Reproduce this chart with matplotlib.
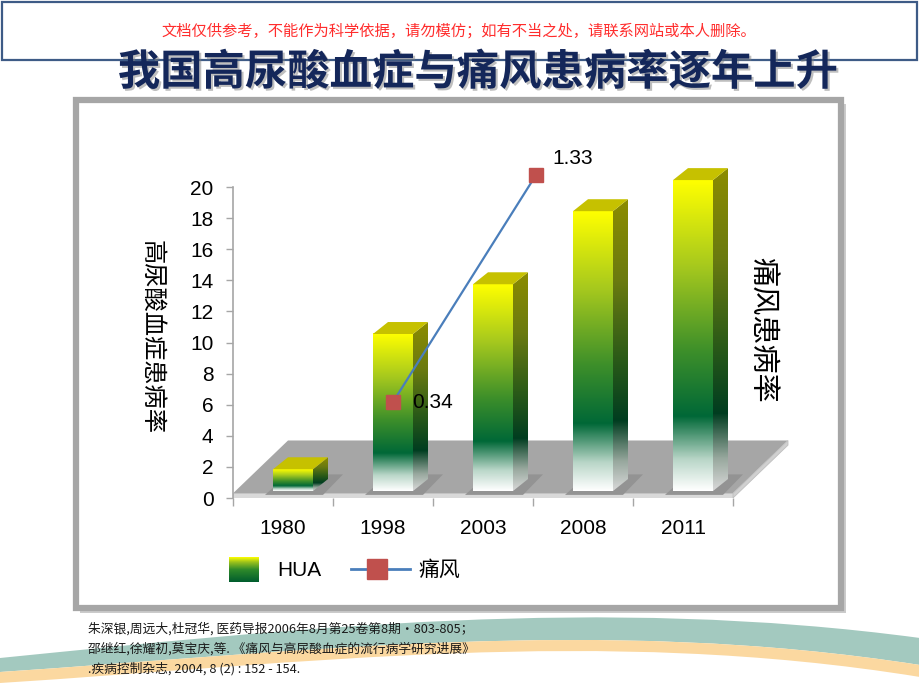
import numpy as np
import matplotlib
matplotlib.use('Agg')
import matplotlib.pyplot as plt
from matplotlib.colors import LinearSegmentedColormap
from matplotlib.patches import Polygon, Rectangle, PathPatch
from matplotlib.path import Path
import matplotlib.patheffects as pe

plt.rcParams['font.family'] = ['Liberation Sans', 'Noto Sans CJK SC']
CJK = ['Noto Sans CJK SC', 'DejaVu Sans']

# 数据
years = ['1980', '1998', '2003', '2008', '2011']
hua = [1.4, 10.1, 13.3, 18.0, 20.0]          # 高尿酸血症患病率
gout_years = ['1998', '2003']
gout = [0.34, 1.33]                          # 痛风患病率
yticks = list(range(0, 21, 2))

title = '我国高尿酸血症与痛风患病率逐年上升'
notice = '文档仅供参考，不能作为科学依据，请勿模仿；如有不当之处，请联系网站或本人删除。'
ylabel_left = '高尿酸血症患病率'
ylabel_right = '痛风患病率'
legend_labels = ['HUA', '痛风']
refs = ['朱深银,周远大,杜冠华, 医药导报2006年8月第25卷第8期·803-805；',
        '邵继红,徐耀初,莫宝庆,等. 《痛风与高尿酸血症的流行病学研究进展》',
        '.疾病控制杂志, 2004, 8 (2) : 152 - 154.']

W, H = 920, 690
fig = plt.figure(figsize=(W / 100, H / 100), dpi=100)


def frac(l, t, r, b):
    return [l / W, 1 - b / H, (r - l) / W, (b - t) / H]


# 背景层（像素坐标）
bg = fig.add_axes([0, 0, 1, 1], zorder=0)
bg.set_xlim(0, W)
bg.set_ylim(H, 0)
bg.axis('off')

# 底部波浪
def band(top, bot, color):
    verts = top + [bot[0]] + bot[1:] + [top[0]]
    codes = ([Path.MOVETO] + [Path.CURVE4] * 3 + [Path.LINETO] +
             [Path.CURVE4] * 3 + [Path.CLOSEPOLY])
    bg.add_patch(PathPatch(Path(verts, codes), facecolor=color, edgecolor='none'))

teal_top = [(0, 658), (300, 628), (600, 595), (920, 638)]
teal_bot = [(920, 665), (600, 615), (300, 652), (0, 672)]
orange_bot = [(920, 677), (600, 625), (300, 664), (0, 683)]
band(teal_top, teal_bot, '#a3c9bf')
band(teal_bot[::-1], orange_bot, '#fbd8a0')

# 顶部提示框
bg.add_patch(Rectangle((2, 2), 915, 58, facecolor='white', edgecolor='#3e5b86', lw=1.6))
bg.text(459, 31, notice, ha='center', va='center', fontsize=11, color='#ff2d2d', family=CJK)

# 图表面板
bg.add_patch(Rectangle((80, 104), 766, 509, facecolor='#8c8c8c', edgecolor='none', alpha=0.45))
bg.add_patch(Rectangle((76.5, 100), 765, 508, facecolor='white', edgecolor='#a6a6a6', lw=4.5))

bg.text(478, 73, title, ha='center', va='center', fontsize=30.5, fontweight='bold',
        color='#14275a', family=CJK,
        path_effects=[pe.withSimplePatchShadow(offset=(1.5, -1.5), shadow_rgbFace='#7f7f7f', alpha=0.5)])

# 主坐标轴（柱）
ax = fig.add_axes(frac(233, 156, 833, 498), zorder=1)
ax.patch.set_visible(False)
for s in ['top', 'right', 'bottom']:
    ax.spines[s].set_visible(False)
ax.spines['left'].set_bounds(0, 20)
ax.spines['left'].set_color('#a6a6a6')
ax.spines['left'].set_linewidth(1.2)

fdx, fdy, fth = 0.55, 3.4, 0.3
ax.add_patch(Polygon([(-0.5, fth), (4.5, fth), (4.5 + fdx, fth + fdy), (-0.5 + fdx, fth + fdy)],
                     facecolor='#a6a6a6', edgecolor='none', zorder=1))
ax.add_patch(Rectangle((-0.5, 0), 5, fth, facecolor='#d9d9d9', edgecolor='#bfbfbf', lw=0.6, zorder=1))
ax.add_patch(Polygon([(4.5, 0), (4.5 + fdx, fdy), (4.5 + fdx, fdy + fth), (4.5, fth)],
                     facecolor='#d0d0d0', edgecolor='#bfbfbf', lw=0.6, zorder=1))

front_cmap = LinearSegmentedColormap.from_list('front', [
    (0, '#ffffff'), (0.1, '#b9d6c8'), (0.24, '#006837'), (0.45, '#3d8f2a'),
    (0.72, '#a5c81e'), (1, '#ffff00')])
side_cmap = LinearSegmentedColormap.from_list('side', [
    (0, '#d8d8d8'), (0.1, '#98a89e'), (0.24, '#003d20'), (0.45, '#2a5a18'),
    (0.72, '#6a7a10'), (1, '#8c8c00')])
grad = np.linspace(0, 1, 256).reshape(-1, 1)

base, bw, off, ddx, ddy = 0.45, 0.4, -0.1, 0.15, 0.77
xs = np.arange(len(years))
for i, v in zip(xs, hua):
    x0, x1 = i + off, i + off + bw
    # 地面阴影
    ax.add_patch(Polygon([(x0 - 0.08, base - 0.25), (x1 + 0.1, base - 0.25),
                          (x1 + ddx + 0.15, base + ddy + 0.3), (x0 + ddx, base + ddy + 0.3)],
                         facecolor='#939393', edgecolor='none', zorder=1.5))
    ax.imshow(grad, extent=[x0, x1, base, base + v], origin='lower', aspect='auto',
              cmap=front_cmap, zorder=2)
    side = Polygon([(x1, base), (x1 + ddx, base + ddy), (x1 + ddx, base + v + ddy), (x1, base + v)],
                   closed=True, facecolor='none', edgecolor='none', transform=ax.transData)
    ax.add_patch(side)
    im = ax.imshow(grad, extent=[x1, x1 + ddx, base, base + v + ddy], origin='lower',
                   aspect='auto', cmap=side_cmap, zorder=2)
    im.set_clip_path(side)
    ax.add_patch(Polygon([(x0, base + v), (x1, base + v), (x1 + ddx, base + v + ddy),
                          (x0 + ddx, base + v + ddy)], facecolor='#c6c100', edgecolor='none', zorder=2))

ax.set_xlim(-0.5, 5.5)
ax.set_ylim(0, 22)
ax.set_yticks(yticks)
ax.tick_params(axis='y', length=5, color='#a6a6a6', width=1, pad=9, labelsize=15)
ax.set_xticks(xs)
ax.set_xticklabels(years)
ax.set_xticks(np.arange(-0.5, 5, 1), minor=True)
ax.tick_params(axis='x', which='major', length=0, pad=15, labelsize=15)
ax.tick_params(axis='x', which='minor', length=6, color='#a6a6a6', width=1)

# 次坐标轴（痛风折线）
ax2 = fig.add_axes(frac(178.5, 136, 893.5, 480), zorder=2)
ax2.set_xlim(-0.5, 4.5)
ax2.set_ylim(0, 1.5)
ax2.axis('off')
gx = [years.index(y) for y in gout_years]
ax2.plot(gx, gout, color='#4a7ebb', lw=1.6, marker='s', ms=10,
         mfc='#c0504d', mec='#c0504d')
ax2.annotate(f'{gout[0]:.2f}', (gx[0], gout[0]), xytext=(14, 0), textcoords='offset points',
             ha='left', va='center', fontsize=15)
ax2.annotate(f'{gout[1]:.2f}', (gx[1], gout[1]), xytext=(12, 12), textcoords='offset points',
             ha='left', va='center', fontsize=15)

# 坐标轴标题
bg.text(152, 337, ylabel_left, rotation=-90, ha='center', va='center', fontsize=17.5, family=CJK)
bg.text(762, 330, ylabel_right, rotation=-90, ha='center', va='center', fontsize=21, family=CJK)

# 图例
leg_cmap = LinearSegmentedColormap.from_list('leg', [
    (0, '#005c2e'), (0.5, '#2f8a2a'), (0.8, '#9cc21c'), (1, '#ffff00')])
bg.imshow(grad, extent=(229, 259, 582, 557), origin='lower', aspect='auto', cmap=leg_cmap, zorder=2)
bg.text(277, 570, legend_labels[0], ha='left', va='center', fontsize=15)
bg.plot([351, 410], [569, 569], color='#4a7ebb', lw=2, zorder=2)
bg.plot([377], [569], marker='s', ms=14, mfc='#c0504d', mec='#c0504d', zorder=3)
bg.text(418, 570, legend_labels[1], ha='left', va='center', fontsize=15, family=CJK)

# 参考文献
for k, line in enumerate(refs):
    bg.text(88, 629 + 20 * k, line, ha='left', va='center', fontsize=9.2, color='#1a1a1a', family=CJK)

bg.set_xlim(0, W)
bg.set_ylim(H, 0)

fig.savefig('out.png', dpi=100)
